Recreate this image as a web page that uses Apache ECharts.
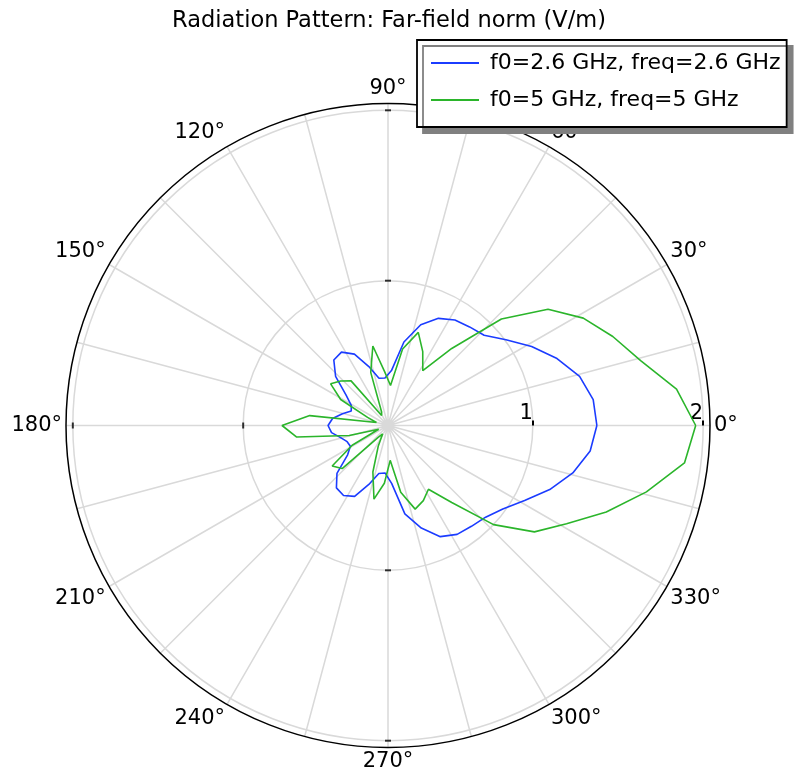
<!DOCTYPE html>
<html>
<head>
<meta charset="utf-8">
<script src="https://cdn.jsdelivr.net/npm/echarts@6/dist/echarts.min.js"></script>
<style>
  html, body { margin: 0; padding: 0; background: #fff; }
  #chart { width: 800px; height: 773px; }
</style>
</head>
<body>
<div id="chart"></div>
<script>
// sample angles (deg), counterclockwise from 0
var angles = [0, 7.2, 14.4, 21.6, 28.8, 36, 43.2, 50.4, 57.6, 64.8, 72, 79.2, 86.4, 93.6, 100.8, 108, 115.2, 122.4,
  129.6, 136.8, 144, 151.2, 158.4, 165.6, 172.8, 180, 187.2, 194.4, 201.6, 208.8, 216, 223.2, 230.4, 237.6, 244.8,
  252, 259.2, 266.4, 273.6, 280.8, 288, 295.2, 302.4, 309.6, 316.8, 324, 331.2, 338.4, 345.6, 352.8, 360]

// far-field norm (V/m)
var norm26 = [1.376, 1.364, 1.311, 1.217, 1.112, 1.006, 0.924, 0.901, 0.883, 0.845, 0.772, 0.649, 0.473, 0.429,
  0.432, 0.514, 0.613, 0.660, 0.649, 0.572, 0.455, 0.396, 0.382, 0.426, 0.478, 0.502, 0.484, 0.437, 0.408, 0.402,
  0.443, 0.561, 0.625, 0.637, 0.610, 0.514, 0.437, 0.429, 0.490, 0.678, 0.783, 0.871, 0.907, 0.918, 0.936, 0.983,
  1.065, 1.171, 1.270, 1.346, 1.376]
var norm50 = [1.956, 1.857, 1.681, 1.569, 1.458, 1.311, 1.063, 0.737, 0.531, 0.629, 0.725, 0.607, 0.385, 0.467,
  0.625, 0.478, 0.238, 0.220, 0.490, 0.531, 0.566, 0.467, 0.279, 0.220, 0.613, 0.772, 0.690, 0.385, 0.209, 0.390,
  0.555, 0.519, 0.238, 0.209, 0.285, 0.437, 0.590, 0.490, 0.355, 0.549, 0.666, 0.637, 0.593, 0.737, 1.000, 1.212,
  1.346, 1.528, 1.716, 1.904, 1.956]

var seriesNames = ['f0=2.6 GHz, freq=2.6 GHz', 'f0=5 GHz, freq=5 GHz']
var radiusTicks = [1, 2]
var extraTickAngles = [90, 180, 270]

var font = 'DejaVu Sans'
var chart = echarts.init(document.getElementById('chart'))

function pairs(vals) {
  return vals.map(function (v, i) { return [v, angles[i]] })
}

var tickMarks = []
extraTickAngles.forEach(function (a) {
  radiusTicks.forEach(function (r) { tickMarks.push([r, a]) })
})

chart.setOption({
  animation: false,
  title: {
    text: 'Radiation Pattern: Far-field norm (V/m)',
    left: 384,
    top: 5,
    textAlign: 'center',
    textStyle: { fontFamily: font, fontSize: 22.5, fontWeight: 'normal', color: '#000' }
  },
  legend: {
    orient: 'vertical',
    left: 417,
    top: 40,
    data: seriesNames,
    padding: [12, 6, 16, 13],
    itemGap: 15,
    itemWidth: 48,
    itemHeight: 22,
    backgroundColor: '#fff',
    borderColor: '#000',
    borderWidth: 1.8,
    borderRadius: 0,
    shadowColor: '#808080',
    shadowBlur: 0,
    shadowOffsetX: 6,
    shadowOffsetY: 6,
    itemStyle: { opacity: 0 },
    textStyle: { fontFamily: font, fontSize: 22, color: '#000', padding: [0, 0, 0, 6], lineHeight: 22 }
  },
  polar: {
    center: [388, 425.5],
    radius: 322
  },
  angleAxis: {
    type: 'value',
    min: 0,
    max: 360,
    interval: 15,
    startAngle: 0,
    clockwise: false,
    axisLine: { lineStyle: { color: '#000', width: 1.5 } },
    axisTick: { show: false },
    axisLabel: {
      margin: 4,
      fontFamily: font,
      fontSize: 21,
      color: '#000',
      formatter: function (v) { return (v % 30 === 0 && v < 360) ? v + '°' : '' }
    },
    splitLine: { show: true, lineStyle: { color: '#d9d9d9', width: 1.5 } }
  },
  radiusAxis: {
    type: 'value',
    min: 0.15,
    max: 2.04,
    axisLine: { show: false },
    axisTick: { show: true, customValues: radiusTicks, length: 5, lineStyle: { color: '#000', width: 2 } },
    axisLabel: {
      customValues: radiusTicks,
      margin: 1,
      align: 'right',
      fontFamily: font,
      fontSize: 21,
      color: '#000'
    },
    splitLine: { show: true, lineStyle: { color: '#d9d9d9', width: 1.5 } }
  },
  series: [
    {
      name: seriesNames[0],
      type: 'line',
      coordinateSystem: 'polar',
      symbol: 'none',
      lineStyle: { color: '#1b3cff', width: 1.6 },
      itemStyle: { color: '#1b3cff' },
      data: pairs(norm26),
      z: 3
    },
    {
      name: seriesNames[1],
      type: 'line',
      coordinateSystem: 'polar',
      symbol: 'none',
      lineStyle: { color: '#2bb52b', width: 1.6 },
      itemStyle: { color: '#2bb52b' },
      data: pairs(norm50),
      z: 3
    },
    {
      type: 'scatter',
      coordinateSystem: 'polar',
      silent: true,
      symbol: 'rect',
      symbolSize: function (d) { return d[1] === 180 ? [2, 6] : [6, 2] },
      itemStyle: { color: '#000' },
      data: tickMarks,
      z: 4
    }
  ]
})
</script>
</body>
</html>
